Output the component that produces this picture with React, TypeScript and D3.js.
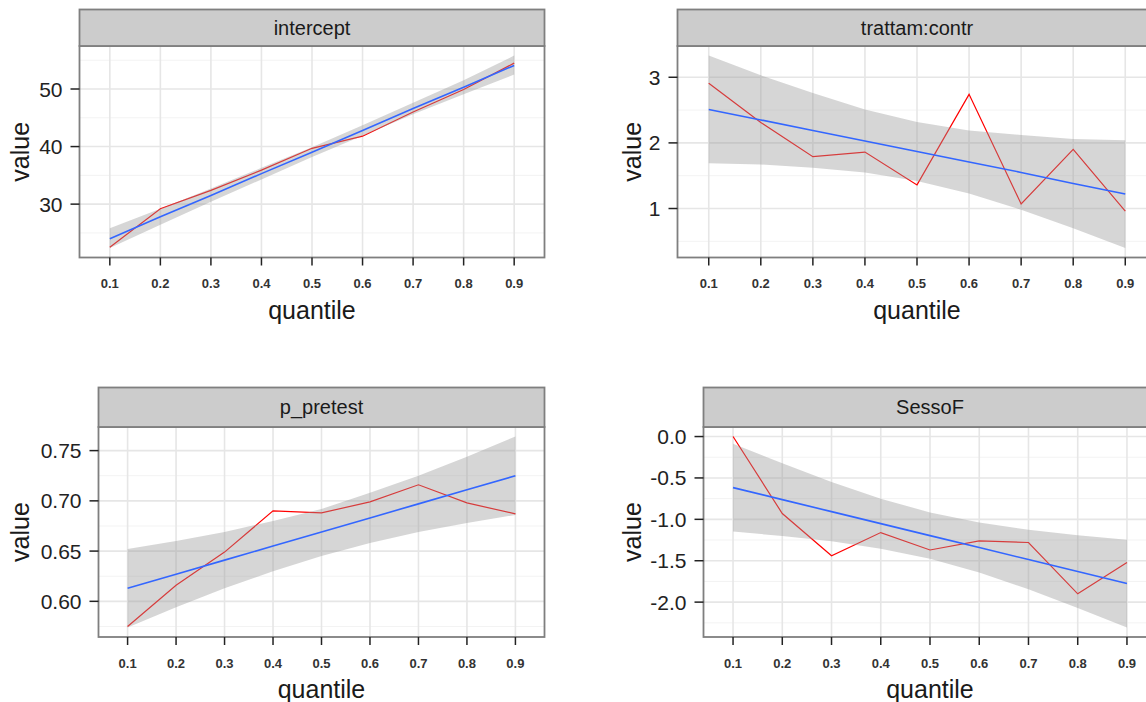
import React from 'react';
import * as d3 from 'd3';

// quantile levels (discrete x axis)
const quantiles = ['0.1', '0.2', '0.3', '0.4', '0.5', '0.6', '0.7', '0.8', '0.9'];

// intercept
const interceptObs = [22.5, 29.2, 32.4, 35.9, 39.7, 41.8, 46.0, 49.9, 54.5];
const interceptFit = [24.0, 27.8, 31.5, 35.3, 39.0, 42.8, 46.6, 50.3, 54.1];
const interceptLo = [22.4, 26.4, 30.4, 34.3, 38.2, 41.9, 45.6, 49.1, 52.5];
const interceptHi = [25.8, 29.2, 32.7, 36.3, 39.9, 43.7, 47.6, 51.5, 55.8];

// trattam:contr
const trattamObs = [2.91, 2.31, 1.79, 1.86, 1.36, 2.74, 1.07, 1.90, 0.96];
const trattamFit = [2.51, 2.35, 2.19, 2.03, 1.87, 1.71, 1.55, 1.38, 1.22];
const trattamLo = [1.69, 1.67, 1.62, 1.55, 1.42, 1.23, 0.98, 0.70, 0.40];
const trattamHi = [3.33, 3.03, 2.76, 2.51, 2.32, 2.19, 2.12, 2.06, 2.04];

// p_pretest
const pretestObs = [0.575, 0.616, 0.649, 0.690, 0.688, 0.699, 0.716, 0.698, 0.687];
const pretestFit = [0.613, 0.627, 0.641, 0.655, 0.669, 0.683, 0.697, 0.711, 0.725];
const pretestLo = [0.574, 0.594, 0.613, 0.630, 0.645, 0.658, 0.669, 0.678, 0.686];
const pretestHi = [0.652, 0.660, 0.669, 0.680, 0.692, 0.708, 0.725, 0.744, 0.764];

// SessoF
const sessoObs = [0.0, -0.93, -1.44, -1.16, -1.37, -1.26, -1.28, -1.90, -1.52];
const sessoFit = [-0.617, -0.762, -0.907, -1.052, -1.197, -1.341, -1.486, -1.631, -1.776];
const sessoLo = [-1.147, -1.201, -1.266, -1.354, -1.477, -1.643, -1.845, -2.070, -2.306];
const sessoHi = [-0.087, -0.324, -0.548, -0.750, -0.917, -1.039, -1.127, -1.193, -1.246];

const interceptTicks = [30, 40, 50];
const trattamTicks = [1, 2, 3];
const pretestTicks = [0.6, 0.65, 0.7, 0.75];
const sessoTicks = [0, -0.5, -1, -1.5, -2];

// plain hyphen minus, like R prints it
const fmt = (spec) => {
  const f = d3.format(spec);
  return (v) => f(v).replace('\u2212', '-');
};

const panels = [
  { title: 'intercept', obs: interceptObs, fit: interceptFit, lo: interceptLo, hi: interceptHi,
    ticks: interceptTicks, fmt: fmt('d'), minor: 5,
    box: { left: 79.5, right: 544.5, stripTop: 9.5, top: 46, bottom: 257.5, ylab: 20 } },
  { title: 'trattam:contr', obs: trattamObs, fit: trattamFit, lo: trattamLo, hi: trattamHi,
    ticks: trattamTicks, fmt: fmt('d'), minor: 0.5,
    box: { left: 677.5, right: 1156.5, stripTop: 9.5, top: 46, bottom: 257.5, ylab: 632 } },
  { title: 'p_pretest', obs: pretestObs, fit: pretestFit, lo: pretestLo, hi: pretestHi,
    ticks: pretestTicks, fmt: fmt('.2f'), minor: 0.025,
    box: { left: 98.5, right: 544.5, stripTop: 387.5, top: 427, bottom: 637, ylab: 20 } },
  { title: 'SessoF', obs: sessoObs, fit: sessoFit, lo: sessoLo, hi: sessoHi,
    ticks: sessoTicks, fmt: fmt('.1f'), minor: 0.25,
    box: { left: 703.5, right: 1156.5, stripTop: 387.5, top: 427, bottom: 637, ylab: 632 } },
];

const FONT = '"Liberation Sans", Arial, sans-serif';

function Panel({ p, idx }) {
  const b = p.box;
  const x = d3.scalePoint().domain(quantiles).range([b.left, b.right]).padding(0.6);
  const all = [...p.obs, ...p.lo, ...p.hi];
  const [mn, mx] = d3.extent(all);
  const pad = (mx - mn) * 0.05;
  const y = d3.scaleLinear().domain([mn - pad, mx + pad]).range([b.bottom, b.top]);

  const step = p.ticks.length > 1 ? Math.abs(p.ticks[1] - p.ticks[0]) : 1;
  const [d0, d1] = y.domain();
  const minorTicks = [];
  for (let v = Math.floor(d0 / step) * step - p.minor; v <= d1; v += step) {
    if (v >= d0 && v <= d1) minorTicks.push(v);
  }

  const line = d3.line().x((d, i) => x(quantiles[i])).y(d => y(d));
  const area = d3.area()
    .x((d, i) => x(quantiles[i]))
    .y0((d, i) => y(p.lo[i]))
    .y1((d, i) => y(p.hi[i]));

  const cx = (b.left + b.right) / 2;
  const cy = (b.top + b.bottom) / 2;
  const clipId = `clip${idx}`;

  return (
    <g>
      <defs>
        <clipPath id={clipId}>
          <rect x={b.left} y={b.top} width={b.right - b.left} height={b.bottom - b.top} />
        </clipPath>
      </defs>
      <rect x={b.left} y={b.top} width={b.right - b.left} height={b.bottom - b.top} fill="#fff" />
      <g clipPath={`url(#${clipId})`}>
        {minorTicks.map((v, i) => (
          <line key={'m' + i} x1={b.left} x2={b.right} y1={y(v)} y2={y(v)} stroke="#f3f3f3" strokeWidth={1} />
        ))}
        {p.ticks.map((v, i) => (
          <line key={'h' + i} x1={b.left} x2={b.right} y1={y(v)} y2={y(v)} stroke="#e6e6e6" strokeWidth={1.6} />
        ))}
        {quantiles.map(q => (
          <line key={'v' + q} x1={x(q)} x2={x(q)} y1={b.top} y2={b.bottom} stroke="#e6e6e6" strokeWidth={1.6} />
        ))}
        <path d={line(p.obs)} fill="none" stroke="#ff0000" strokeWidth={1.2} />
        <path d={area(p.fit)} fill="#999999" fillOpacity={0.4} />
        <path d={line(p.fit)} fill="none" stroke="#3366ff" strokeWidth={1.6} />
      </g>
      <rect x={b.left} y={b.top} width={b.right - b.left} height={b.bottom - b.top}
        fill="none" stroke="#7f7f7f" strokeWidth={1.8} />
      <rect x={b.left} y={b.stripTop} width={b.right - b.left} height={b.top - b.stripTop}
        fill="#cccccc" stroke="#7f7f7f" strokeWidth={1.8} />
      <text x={cx} y={(b.stripTop + b.top) / 2} textAnchor="middle" dominantBaseline="central"
        fontFamily={FONT} fontSize={20} fill="#1a1a1a">{p.title}</text>

      {p.ticks.map((v, i) => (
        <g key={'yt' + i}>
          <line x1={b.left - 9} x2={b.left} y1={y(v)} y2={y(v)} stroke="#222" strokeWidth={1.5} />
          <text x={b.left - 17} y={y(v)} textAnchor="end" dominantBaseline="central"
            fontFamily={FONT} fontSize={21} fill="#222">{p.fmt(v)}</text>
        </g>
      ))}
      {quantiles.map(q => (
        <g key={'xt' + q}>
          <line x1={x(q)} x2={x(q)} y1={b.bottom} y2={b.bottom + 8} stroke="#222" strokeWidth={1.5} />
          <text x={x(q)} y={b.bottom + 26} textAnchor="middle" dominantBaseline="central"
            fontFamily={FONT} fontSize={13} fontWeight="bold" fill="#333">{q}</text>
        </g>
      ))}
      <text x={cx} y={b.bottom + 52} textAnchor="middle" dominantBaseline="central"
        fontFamily={FONT} fontSize={25} fill="#1a1a1a">quantile</text>
      <text transform={`translate(${b.ylab},${cy}) rotate(-90)`} textAnchor="middle" dominantBaseline="central"
        fontFamily={FONT} fontSize={25} fill="#1a1a1a">value</text>
    </g>
  );
}

export default function App() {
  return (
    <svg width={1146} height={702} style={{ position: 'absolute', left: 0, top: 0, background: '#fff' }}>
      <rect width={1146} height={702} fill="#fff" />
      {panels.map((p, i) => <Panel key={p.title} p={p} idx={i} />)}
    </svg>
  );
}
